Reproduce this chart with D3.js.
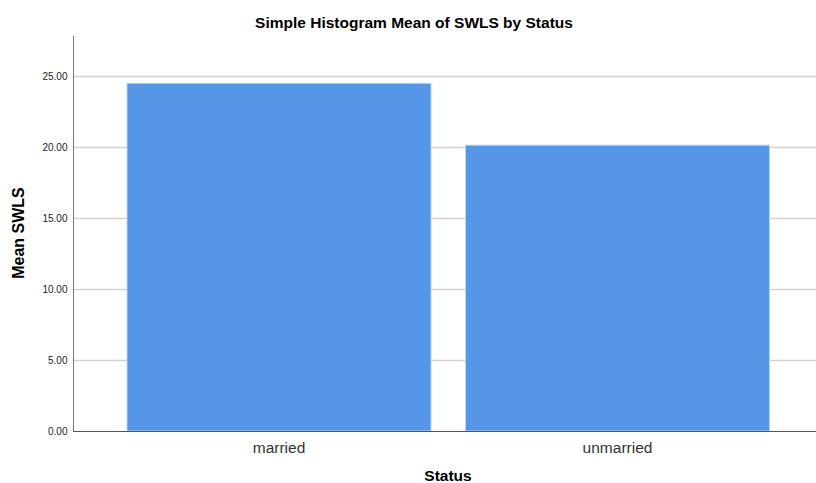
<!DOCTYPE html>
<html>
<head>
<meta charset="utf-8">
<script src="https://cdn.jsdelivr.net/npm/d3@7"></script>
<style>
  body { margin: 0; background: #fff; }
  text { font-family: "Liberation Sans", Arial, sans-serif; }
</style>
</head>
<body>
<svg></svg>
<script>
const categories = ['married', 'unmarried'];
const meanSWLS = [24.49, 20.13];
const yTicks = [0, 5, 10, 15, 20, 25];

const width = 816, height = 483;
const plotLeft = 73, plotRight = 816, plotTop = 36, plotBottom = 431;

let svg = d3.select('svg')
  .attr('width', width)
  .attr('height', height);

let x = d3.scaleBand()
  .domain(categories)
  .range([109.75, 786.75])
  .paddingInner(0.102)
  .paddingOuter(0.051);

let y = d3.scaleLinear()
  .domain([0, 27.82])
  .range([plotBottom, plotTop]);

// gridlines
svg.append('g')
  .selectAll('line')
  .data(yTicks.filter(d => d > 0))
  .join('line')
  .attr('x1', plotLeft)
  .attr('x2', plotRight)
  .attr('y1', d => Math.round(y(d)) + 0.5)
  .attr('y2', d => Math.round(y(d)) + 0.5)
  .attr('stroke', '#d2d2d2')
  .attr('stroke-width', 1.5);

// bars
svg.append('g')
  .selectAll('rect')
  .data(categories)
  .join('rect')
  .attr('x', d => x(d))
  .attr('y', (d, i) => y(meanSWLS[i]))
  .attr('width', x.bandwidth())
  .attr('height', (d, i) => plotBottom - y(meanSWLS[i]))
  .attr('fill', '#5596e6')
  .attr('stroke', '#b8d4f5')
  .attr('stroke-width', 1);

// y axis
let yAxis = svg.append('g')
  .attr('transform', `translate(${plotLeft + 0.5},0)`)
  .call(d3.axisLeft(y).tickValues(yTicks).tickFormat(d3.format('.2f')).tickSize(0).tickPadding(6));
yAxis.select('.domain').attr('stroke', '#777').attr('d', `M0,${plotTop}V${plotBottom}`);
yAxis.selectAll('text').style('font-size', '10px').attr('fill', '#222');

// x axis
let xAxis = svg.append('g')
  .attr('transform', `translate(0,${plotBottom + 0.5})`)
  .call(d3.axisBottom(x).tickSize(0).tickPadding(10));
xAxis.select('.domain').attr('stroke', '#555').attr('d', `M${plotLeft},0H${plotRight}`);
xAxis.selectAll('text').style('font-size', '15.5px').attr('fill', '#333');

// titles
svg.append('text')
  .attr('x', 414)
  .attr('y', 28)
  .style('font-size', '15.5px')
  .style('font-weight', 'bold')
  .style('text-anchor', 'middle')
  .text('Simple Histogram Mean of SWLS by Status');

svg.append('text')
  .attr('transform', 'translate(24,233) rotate(-90)')
  .style('font-size', '16px')
  .style('font-weight', 'bold')
  .style('text-anchor', 'middle')
  .text('Mean SWLS');

svg.append('text')
  .attr('x', 448)
  .attr('y', 481)
  .style('font-size', '15.5px')
  .style('font-weight', 'bold')
  .style('text-anchor', 'middle')
  .text('Status');
</script>
</body>
</html>
